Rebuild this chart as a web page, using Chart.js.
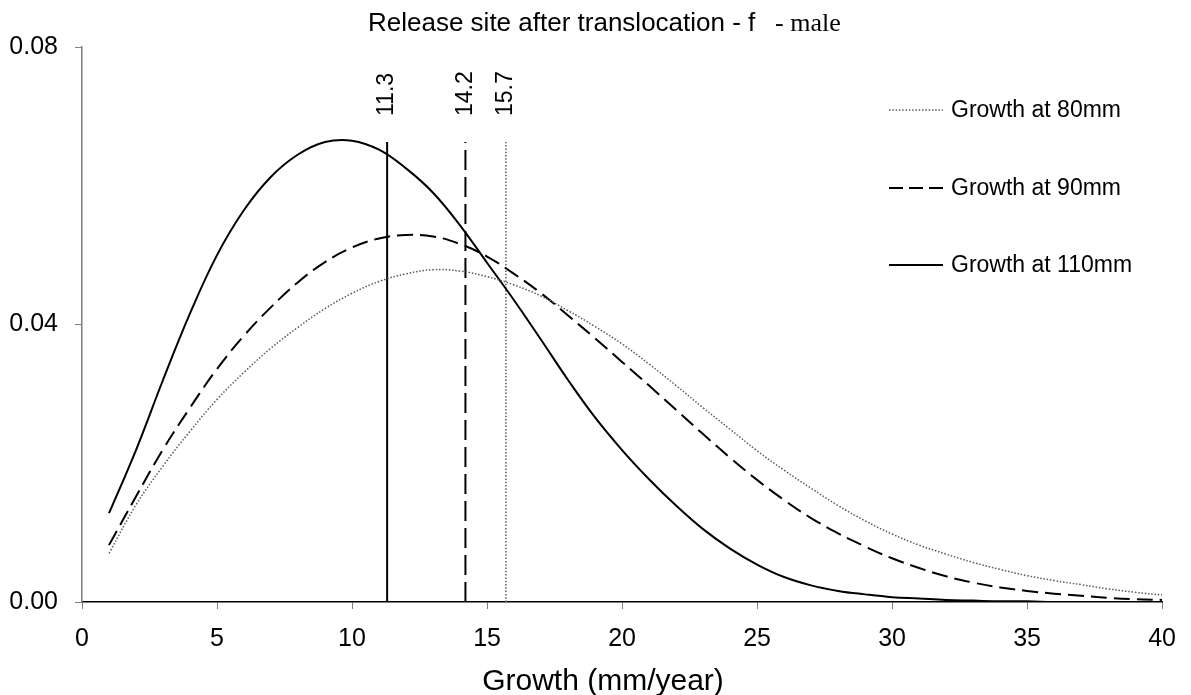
<!DOCTYPE html>
<html>
<head>
<meta charset="utf-8">
<script src="https://cdn.jsdelivr.net/npm/chart.js@4.4.0/dist/chart.umd.min.js"></script>
<style>
  html, body { margin: 0; padding: 0; background: #fff; }
  #wrap { width: 1191px; height: 695px; }
</style>
</head>
<body>
<div id="wrap"><canvas id="growthChart"></canvas></div>
<script>
// growth rate (mm/year) on the x axis
const growth = [1, 2, 3, 4, 5, 6, 7, 8, 9, 10, 11, 12, 13, 14, 15, 16, 17, 18, 19, 20,
                21, 22, 23, 24, 25, 26, 27, 28, 29, 30, 31, 32, 33, 34, 35, 36, 37, 38, 39, 40];

// density curves
const at80mm = [0.0070, 0.0140, 0.0196, 0.0246, 0.0292, 0.0331, 0.0366, 0.0396, 0.0423, 0.0445,
                0.0462, 0.0473, 0.0479, 0.0477, 0.0469, 0.0457, 0.0441, 0.0420, 0.0397, 0.0372,
                0.0343, 0.0312, 0.0280, 0.0249, 0.0218, 0.0190, 0.0164, 0.0139, 0.0117, 0.0098,
                0.0082, 0.0069, 0.0057, 0.0047, 0.0038, 0.0031, 0.0025, 0.0019, 0.0014, 0.0010];
const at90mm = [0.0082, 0.0152, 0.0220, 0.0280, 0.0336, 0.0384, 0.0425, 0.0461, 0.0490, 0.0511,
                0.0524, 0.0529, 0.0527, 0.0516, 0.0498, 0.0473, 0.0445, 0.0413, 0.0380, 0.0346,
                0.0312, 0.0277, 0.0242, 0.0208, 0.0176, 0.0147, 0.0121, 0.0099, 0.0080, 0.0063,
                0.0049, 0.0037, 0.0028, 0.0021, 0.0016, 0.0012, 0.0009, 0.0006, 0.0004, 0.0003];
const at110mm = [0.0128, 0.0219, 0.0320, 0.0416, 0.0500, 0.0565, 0.0613, 0.0645, 0.0663, 0.0665,
                 0.0652, 0.0625, 0.0590, 0.0543, 0.0489, 0.0435, 0.0378, 0.0320, 0.0266, 0.0219,
                 0.0177, 0.0139, 0.0105, 0.0077, 0.0054, 0.0036, 0.0024, 0.0016, 0.0011, 0.0007,
                 0.0005, 0.0003, 0.0002, 0.0001, 0.0001, 0.0000, 0.0000, 0.0000, 0.0000, 0.0000];

// mean growth markers
const markerX = [15.7, 14.2, 11.3];
const markerText = ["15.7", "14.2", "11.3"];
const markerTop = 0.0663;

const seriesNames = ["Growth at 80mm", "Growth at 90mm", "Growth at 110mm"];
const xTicks = [0, 5, 10, 15, 20, 25, 30, 35, 40];
const yTicks = [0, 0.04, 0.08];

const sans = "'Liberation Sans', Arial, sans-serif";
const serif = "'Liberation Serif', 'Times New Roman', serif";

// line styles: dotted, dashed, solid
const styles = [
    { color: "#5a5a5a", width: 1.5, dash: [1.5, 1.8] },
    { color: "#000000", width: 2, dash: [16, 7] },
    { color: "#000000", width: 2, dash: [] }
];

function pts(ys) {
    return growth.map((g, i) => ({ x: g, y: ys[i] }));
}

var curves = [at80mm, at90mm, at110mm];
var datasets = [];
for (var i = 0; i < curves.length; i++) {
    datasets.push({
        label: seriesNames[i],
        data: pts(curves[i]),
        borderColor: styles[i].color,
        borderWidth: styles[i].width,
        borderDash: styles[i].dash,
        pointRadius: 0,
        fill: false,
        tension: 0.4
    });
}
for (var j = 0; j < markerX.length; j++) {
    datasets.push({
        label: "marker " + markerText[j],
        data: [{ x: markerX[j], y: 0 }, { x: markerX[j], y: markerTop }],
        borderColor: styles[j].color,
        borderWidth: styles[j].width,
        borderDash: j == 1 ? [20, 7] : styles[j].dash,
        pointRadius: 0,
        fill: false
    });
}

// title, axis title, marker labels and legend drawn on top
const extras = {
    id: "extras",
    afterDraw(chart) {
        const ctx = chart.ctx;
        const xs = chart.scales.x;
        ctx.save();
        ctx.fillStyle = "#000";
        ctx.textBaseline = "alphabetic";
        ctx.textAlign = "left";
        ctx.font = "26px " + sans;
        ctx.fillText("Release site after translocation - f", 368, 31);
        ctx.font = "26px " + serif;
        ctx.fillText("- male", 775, 31);

        ctx.textAlign = "center";
        ctx.textBaseline = "middle";
        ctx.font = "30px " + sans;
        ctx.fillText("Growth (mm/year)", 603, 682);

        // rotated labels above the markers
        ctx.textAlign = "left";
        ctx.font = "23px " + sans;
        for (var k = 0; k < markerX.length; k++) {
            ctx.save();
            ctx.translate(xs.getPixelForValue(markerX[k]), 116);
            ctx.rotate(-Math.PI / 2);
            ctx.fillText(markerText[k], 0, 0);
            ctx.restore();
        }

        // legend
        const rows = [110, 188, 265];
        for (var n = 0; n < seriesNames.length; n++) {
            ctx.beginPath();
            ctx.strokeStyle = styles[n].color;
            ctx.lineWidth = styles[n].width;
            ctx.setLineDash(n == 1 ? [14, 6] : styles[n].dash);
            ctx.moveTo(889, rows[n]);
            ctx.lineTo(943, rows[n]);
            ctx.stroke();
            ctx.setLineDash([]);
            ctx.fillText(seriesNames[n], 951, rows[n] + 1);
        }
        ctx.restore();
    }
};

var ctx = document.getElementById("growthChart").getContext("2d");
var chart = new Chart(ctx, {
    type: "line",
    data: { datasets: datasets },
    plugins: [extras],
    options: {
        responsive: true,
        maintainAspectRatio: false,
        animation: false,
        layout: { padding: { top: 47, left: 8, right: 25, bottom: 0 } },
        plugins: {
            legend: { display: false },
            tooltip: { enabled: false }
        },
        scales: {
            x: {
                type: "linear",
                min: 0,
                max: 40,
                afterBuildTicks: (s) => { s.ticks = xTicks.map(v => ({ value: v })); },
                afterFit: (s) => { s.height = 93; },
                grid: { drawOnChartArea: false, drawTicks: true, tickLength: 7, color: "#808080" },
                border: { display: true, color: "#000", width: 1.5 },
                ticks: { color: "#000", padding: 15, font: { family: sans, size: 25 } }
            },
            y: {
                type: "linear",
                min: 0,
                max: 0.08,
                afterBuildTicks: (s) => { s.ticks = yTicks.map(v => ({ value: v })); },
                afterFit: (s) => { s.width = 74; },
                grid: { drawOnChartArea: false, drawTicks: true, tickLength: 7, color: "#808080" },
                border: { display: true, color: "#808080", width: 1.5 },
                ticks: {
                    color: "#000",
                    padding: 17,
                    font: { family: sans, size: 25 },
                    callback: (v) => v.toFixed(2)
                }
            }
        }
    }
});
</script>
</body>
</html>
